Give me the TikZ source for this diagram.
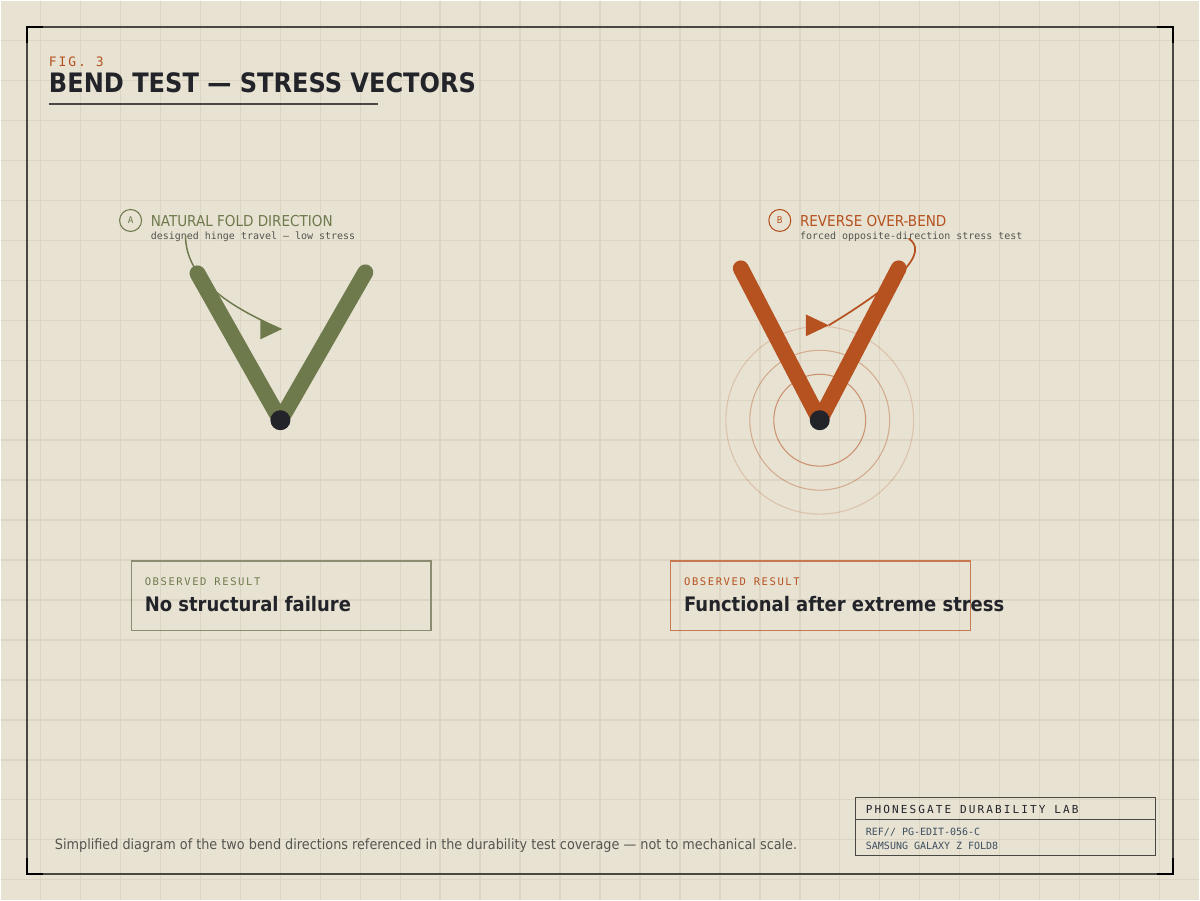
\documentclass[tikz,border=0pt]{standalone}
\usepackage{fontspec}
\setmainfont{DejaVu Sans Condensed}
\setmonofont{DejaVu Sans Mono}
\newfontfamily\spacedmono[LetterSpace=15]{DejaVu Sans Mono}
\newfontfamily\widemono[LetterSpace=19]{DejaVu Sans Mono}
\usetikzlibrary{positioning}

\definecolor{paper}{HTML}{E8E2D3}
\definecolor{gridline}{HTML}{DCD5C4}
\definecolor{olive}{HTML}{6E7A4C}
\definecolor{olivebox}{HTML}{8C8C72}
\definecolor{rust}{HTML}{B5521F}
\definecolor{rustbox}{HTML}{C77A52}
\definecolor{ink}{HTML}{22242A}
\definecolor{subgray}{HTML}{55554F}
\definecolor{refblue}{HTML}{3D4F5E}
\definecolor{framegray}{HTML}{4A4843}

\tikzset{
  txt/.style={anchor=base west, inner sep=0pt},
  badge/.style={circle, draw=#1, line width=0.8pt, minimum size=16.5pt, inner sep=0pt,
    text=#1, font=\ttfamily\fontsize{7}{8}\selectfont},
  hinge/.style={line width=12pt, line cap=round, line join=round},
  resultbox/.style={draw=#1, line width=1.1pt, minimum width=225pt, minimum height=52.5pt,
    anchor=north west, inner sep=0pt},
}

\begin{document}
\begin{tikzpicture}[x=0.75pt, y=-0.75pt]
    % Paper and grid
    \fill[paper] (0,0) rectangle (1200,900);
    \foreach \x in {40,80,...,1160} {
      \draw[gridline, line width=1.1pt] (\x,0) -- (\x,900);
    }
    \foreach \y in {40,80,...,880} {
      \draw[gridline, line width=1.1pt] (0,\y) -- (1200,\y);
    }

    % Frame with corner ticks
    \draw[framegray, line width=1.5pt] (26,26) rectangle (1174,874);
    \foreach \cx/\cy/\dx/\dy in {26/26/1/1, 1174/26/-1/1, 1174/874/-1/-1, 26/874/1/-1} {
      \draw[black, line width=1.6pt] (\cx+16*\dx,\cy) -- (\cx,\cy) -- (\cx,\cy+16*\dy);
    }

    % Heading
    \node[txt, text=rust, font=\spacedmono\fontsize{9.75}{11}\selectfont] (fig) at (48,66) {FIG. 3};
    \node[txt, text=ink, font=\bfseries\fontsize{20.1}{23}\selectfont] (title) at (48,92) {BEND TEST — STRESS VECTORS};
    \draw[framegray, line width=1.5pt] (48,103) -- (378,103);

    % Panel A: natural fold
    \node[badge=olive] (badgeA) at (130,220) {A};
    \node[txt, text=olive, font=\fontsize{11.3}{14}\selectfont] (headA) at (150,226) {NATURAL FOLD DIRECTION};
    \node[txt, text=subgray, font=\ttfamily\fontsize{7.5}{9}\selectfont] (subA) at (150,239) {designed hinge travel — low stress};
    \coordinate (aL) at (197,273);
    \coordinate (aPivot) at (280,420);
    \coordinate (aR) at (365,272);
    \draw[olive, hinge] (aL) -- (aPivot) -- (aR);
    \fill[ink] (aPivot) circle[radius=10];
    \coordinate (aStart) at (185,235);
    \coordinate (aTip) at (281,329);
    \draw[olive, line width=1.1pt] (aStart) .. controls (185,278) and (228,306) .. (aTip);
    \fill[olive] (aTip) -- ++(-21,-10) -- ++(0,20) -- cycle;

    % Panel B: reverse over-bend
    \node[badge=rust] (badgeB) at (780,220) {B};
    \node[txt, text=rust, font=\fontsize{11.3}{14}\selectfont] (headB) at (800,226) {REVERSE OVER-BEND};
    \node[txt, text=subgray, font=\ttfamily\fontsize{7.5}{9}\selectfont] (subB) at (800,239) {forced opposite-direction stress test};
    \coordinate (bL) at (741,268);
    \coordinate (bPivot) at (820,420);
    \coordinate (bR) at (899,268);
    \foreach \r/\o in {46/0.55, 70/0.38, 94/0.22} {
      \draw[rust, opacity=\o, line width=0.8pt] (bPivot) circle[radius=\r];
    }
    \draw[rust, hinge] (bL) -- (bPivot) -- (bR);
    \fill[ink] (bPivot) circle[radius=10];
    \coordinate (bStart) at (909,238);
    \coordinate (bTip) at (829,325);
    \draw[rust, line width=1.3pt] (bStart) .. controls (930,252) and (900,282) .. (bTip);
    \fill[rust] (bTip) -- ++(-23,-11) -- ++(0,22) -- cycle;

    % Result boxes
    \node[resultbox=olivebox] (boxA) at (130,560) {};
    \node[txt, text=olive, font=\spacedmono\fontsize{7.9}{9}\selectfont] (obsA) at ([shift={(14,25)}]boxA.north west) {OBSERVED RESULT};
    \node[txt, text=ink, font=\bfseries\fontsize{15}{18}\selectfont] (resA) at ([shift={(14,52)}]boxA.north west) {No structural failure};
    \node[resultbox=rustbox] (boxB) at (670,560) {};
    \node[txt, text=rust, font=\spacedmono\fontsize{7.9}{9}\selectfont] (obsB) at ([shift={(14,25)}]boxB.north west) {OBSERVED RESULT};
    \node[txt, text=ink, font=\bfseries\fontsize{15}{18}\selectfont] (resB) at ([shift={(14,52)}]boxB.north west) {Functional after extreme stress};

    % Caption and lab stamp
    \node[txt, text=subgray, font=\fontsize{10.7}{12}\selectfont] (caption) at (54,850) {Simplified diagram of the two bend directions referenced in the durability test coverage — not to mechanical scale.};
    \draw[framegray, line width=1.1pt] (856,798) rectangle (1156,856);
    \draw[framegray, line width=1.1pt] (856,820) -- (1156,820);
    \node[txt, text=ink, font=\widemono\fontsize{8.3}{10}\selectfont] (lab) at (866,814) {PHONESGATE DURABILITY LAB};
    \node[txt, text=refblue, font=\ttfamily\fontsize{7.5}{9}\selectfont] (ref) at (866,836) {REF// PG-EDIT-056-C};
    \node[txt, text=refblue, font=\ttfamily\fontsize{7.5}{9}\selectfont, below=10.5pt of ref.base west, anchor=base west] (model) {SAMSUNG GALAXY Z FOLD8};
\end{tikzpicture}
\end{document}
